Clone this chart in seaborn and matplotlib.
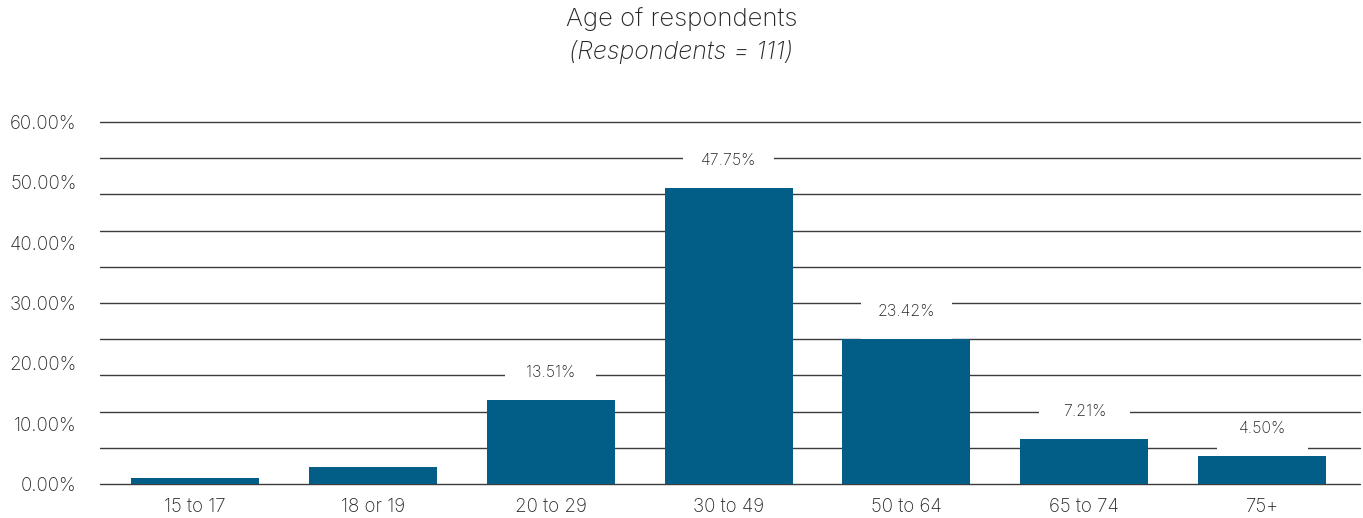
import numpy as np
import pandas as pd
import matplotlib
matplotlib.use("Agg")
import matplotlib.pyplot as plt
from matplotlib.patches import Rectangle
import seaborn as sns

# DATA
age_groups = ["15 to 17", "18 or 19", "20 to 29", "30 to 49", "50 to 64", "65 to 74", "75+"]
share_pct = [0.90, 2.70, 13.51, 47.75, 23.42, 7.21, 4.50]
show_label = [False, False, True, True, True, True, True]
tick_labels = ["0.00%", "10.00%", "20.00%", "30.00%", "40.00%", "50.00%", "60.00%"]

df = pd.DataFrame({"age": age_groups, "share": share_pct})

sns.set_style("white")
plt.rcParams["font.family"] = ["Inter", "DejaVu Sans"]

BAR = "#025E87"
GRID = "#3c3c3c"
TXT = "#262626"

fig = plt.figure(figsize=(13.63, 5.18), dpi=100)
ax = fig.add_axes([0.0734, 0.0656, 0.9244, 0.699])

y_top = 58.4

# gridlines (11 evenly spaced, independent of the tick labels, as in the original)
for gy in np.linspace(0, y_top, 11):
    ax.axhline(gy, color=GRID, lw=1.0, zorder=1, clip_on=False)

sns.barplot(data=df, x="age", y="share", color=BAR, width=0.72,
            saturation=1, linewidth=0, ax=ax, zorder=3)

ax.set_ylim(0, y_top)
ax.set_xlim(-0.534, 6.55)

# labels with white boxes knocking out the gridlines
for i, (v, s) in enumerate(zip(share_pct, show_label)):
    if not s:
        continue
    ax.add_patch(Rectangle((i - 0.255, v), 0.51, 6.45, facecolor="white",
                           edgecolor="none", zorder=2))
    ax.annotate(f"{v:.2f}%", (i, v), xytext=(0, 20), textcoords="offset points",
                ha="center", va="center", fontsize=11.5, color=TXT,
                fontweight="light", zorder=4)

ax.set_yticks(np.linspace(0, y_top, 7))
ax.set_yticklabels(tick_labels, fontweight="light")
ax.set_xticks(range(len(age_groups)))
ax.set_xticklabels(age_groups, fontweight="light")
ax.tick_params(axis="y", length=0, pad=17, labelsize=13.5, labelcolor=TXT)
ax.tick_params(axis="x", length=0, pad=10, labelsize=13.5, labelcolor=TXT)
ax.set_xlabel("")
ax.set_ylabel("")
sns.despine(ax=ax, left=True, bottom=True)

fig.text(0.5, 0.963, "Age of respondents", ha="center", va="center",
         fontsize=18.5, color=TXT, fontweight="light")
fig.text(0.5, 0.900, "(Respondents = 111)", ha="center", va="center",
         fontsize=18, color=TXT, style="italic", fontweight="light")

fig.savefig("out.png", dpi=100)
